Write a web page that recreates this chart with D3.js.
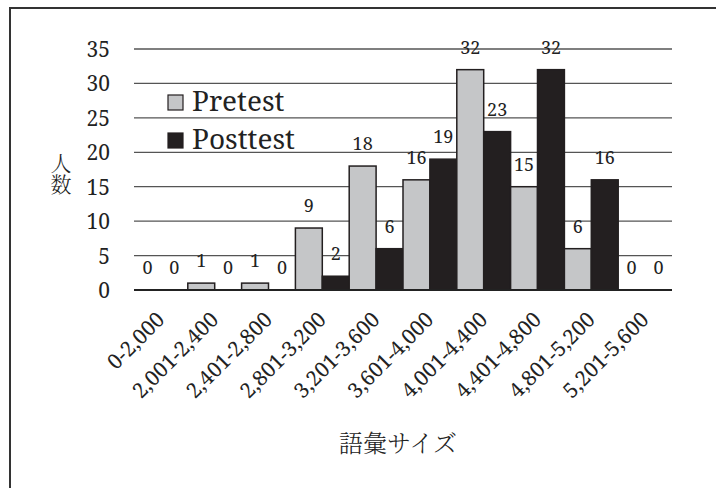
<!DOCTYPE html>
<html>
<head>
<meta charset="utf-8">
<script src="https://cdn.jsdelivr.net/npm/d3@7/dist/d3.min.js"></script>
<style>
  html, body { margin: 0; padding: 0; background: #fff; }
  svg { display: block; }
  .serif { font-family: "Noto Serif", "DejaVu Serif", "DejaVu Sans", sans-serif; }
  .cjk { font-family: "Noto Serif CJK JP", "Noto Sans CJK JP", sans-serif; font-weight: 300; }
</style>
</head>
<body>
<svg id="chart" width="716" height="488"></svg>
<script>
// Vocabulary-size distribution, pretest vs posttest
const categories = ["0-2,000", "2,001-2,400", "2,401-2,800", "2,801-3,200", "3,201-3,600",
                    "3,601-4,000", "4,001-4,400", "4,401-4,800", "4,801-5,200", "5,201-5,600"];
const seriesNames = ["Pretest", "Posttest"];
const pretest  = [0, 1, 1, 9, 18, 16, 32, 15, 6, 0];
const posttest = [0, 0, 0, 2, 6, 19, 23, 32, 16, 0];
const yTicks = [0, 5, 10, 15, 20, 25, 30, 35];

const colors = { Pretest: "#c5c6c8", Posttest: "#231f20" };

const svg = d3.select("#chart");
const W = 716, H = 488;
const plot = { left: 134, right: 672, top: 49, bottom: 290 };

// outer frame
svg.append("rect")
  .attr("x", 10).attr("y", 8)
  .attr("width", W + 20).attr("height", H + 20)
  .attr("fill", "none").attr("stroke", "#333").attr("stroke-width", 2);

const x = d3.scaleBand().domain(categories).range([plot.left, plot.right]).padding(0);
const xs = d3.scaleBand().domain(seriesNames).range([0, x.bandwidth()]).padding(0);
const y = d3.scaleLinear().domain([0, 35]).range([plot.bottom, plot.top]);

// horizontal gridlines
svg.append("g").selectAll("line").data(yTicks.filter(d => d > 0)).join("line")
  .attr("x1", plot.left).attr("x2", plot.right)
  .attr("y1", d => y(d)).attr("y2", d => y(d))
  .attr("stroke", "#555").attr("stroke-width", 1.3);

// y axis labels
const yAxis = d3.axisLeft(y).tickValues(yTicks).tickSize(0).tickPadding(0);
const gy = svg.append("g").attr("transform", `translate(110,0)`).call(yAxis)
  .attr("font-family", null).attr("font-size", null);
gy.select(".domain").remove();
gy.selectAll("text")
  .attr("class", "serif")
  .style("font-size", "21px").attr("fill", "#222")
  .attr("dy", "0.36em");

// bars
const rows = categories.map((c, i) => ({ c, values: [
  { s: "Pretest", v: pretest[i] }, { s: "Posttest", v: posttest[i] } ] }));

const groups = svg.append("g").selectAll("g").data(rows).join("g")
  .attr("transform", d => `translate(${x(d.c)},0)`);

groups.selectAll("rect").data(d => d.values.filter(e => e.v > 0)).join("rect")
  .attr("x", d => xs(d.s))
  .attr("y", d => y(d.v))
  .attr("width", xs.bandwidth())
  .attr("height", d => y(0) - y(d.v))
  .attr("fill", d => colors[d.s])
  .attr("stroke", "#231f20").attr("stroke-width", 1.5);

// value labels
groups.selectAll("text").data(d => d.values).join("text")
  .attr("class", "serif")
  .attr("x", d => xs(d.s) + xs.bandwidth() / 2)
  .attr("y", d => y(d.v) - 16)
  .attr("text-anchor", "middle")
  .style("font-size", "18px").attr("fill", "#222")
  .text(d => d.v);

// baseline
svg.append("line")
  .attr("x1", plot.left).attr("x2", plot.right)
  .attr("y1", y(0)).attr("y2", y(0))
  .attr("stroke", "#222").attr("stroke-width", 2);

// rotated category labels
const xAxis = d3.axisBottom(x).tickSize(0).tickPadding(0);
const gx = svg.append("g").attr("transform", `translate(0,${plot.bottom})`).call(xAxis)
  .attr("font-family", null).attr("font-size", null);
gx.select(".domain").remove();
gx.selectAll("text")
  .attr("class", "serif")
  .style("font-size", "21px").attr("fill", "#222")
  .attr("text-anchor", "end")
  .attr("dy", 0).attr("y", 0)
  .attr("transform", "translate(5,31) rotate(-45)");

// axis titles
svg.append("text")
  .attr("class", "cjk")
  .attr("x", 398).attr("y", 452)
  .attr("text-anchor", "middle")
  .style("font-size", "24px").attr("fill", "#222")
  .text("語彙サイズ");

svg.append("text")
  .attr("class", "cjk")
  .attr("x", 61).attr("y", 174)
  .attr("text-anchor", "middle")
  .style("writing-mode", "vertical-rl")
  .style("font-size", "21px").attr("fill", "#222")
  .text("人数");

// legend
const legend = svg.append("g");
seriesNames.forEach((s, i) => {
  const ly = 95 + i * 38;
  legend.append("rect")
    .attr("x", 168).attr("y", ly).attr("width", 15).attr("height", 15)
    .attr("fill", colors[s]).attr("stroke", "#231f20").attr("stroke-width", 1.2);
  legend.append("text")
    .attr("class", "serif")
    .attr("x", 192).attr("y", ly + 16)
    .style("font-size", "28px").attr("fill", "#222")
    .text(s);
});
</script>
</body>
</html>
